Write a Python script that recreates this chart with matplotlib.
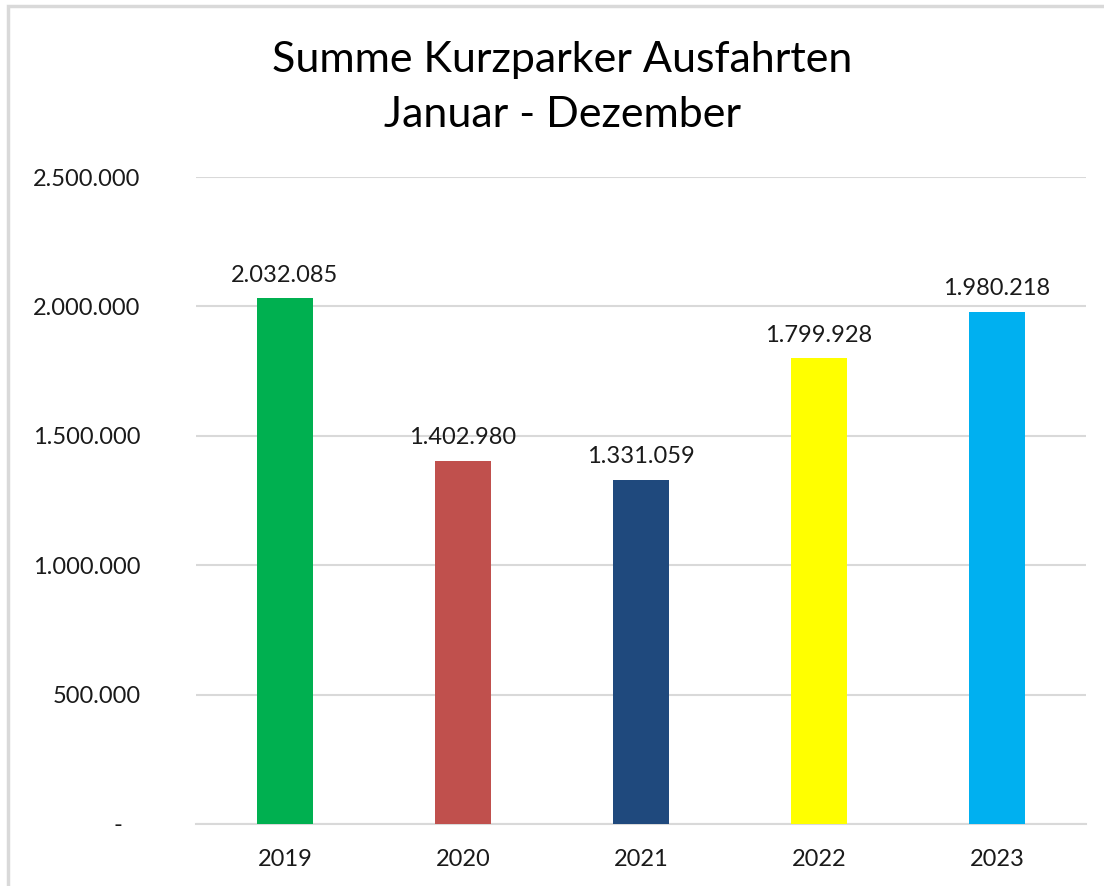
import matplotlib
matplotlib.use("Agg")
import matplotlib.pyplot as plt
from matplotlib.patches import Rectangle
from matplotlib.ticker import FuncFormatter

years = ["2019", "2020", "2021", "2022", "2023"]
values = [2032085, 1402980, 1331059, 1799928, 1980218]
colors = ["#00B050", "#C0504D", "#1F497D", "#FFFF00", "#00B0F0"]
title_lines = ["Summe Kurzparker Ausfahrten", "Januar - Dezember"]

plt.rcParams['font.family'] = ['Lato', 'DejaVu Sans']

W, H = 1104, 886
fig = plt.figure(figsize=(W / 100, H / 100), dpi=100)
fig.patch.set_facecolor("white")

# outer chart frame (cut at right/bottom)
fig.patches.append(Rectangle((8 / W, -0.1), 1.2, (H - 6) / H + 0.1, transform=fig.transFigure,
                             fill=False, edgecolor="#D9D9D9", linewidth=2.5))

ax = fig.add_axes([196 / W, 1 - 824 / H, (1086 - 196) / W, (824 - 177) / H])
x = range(len(years))
ax.bar(x, values, width=0.315, color=colors, zorder=3)
ax.set_xlim(-0.5, len(years) - 0.5)
ax.set_ylim(0, 2500000)
ax.set_yticks(range(0, 2500001, 500000))

def fmt(v, pos=None):
    v = int(round(v))
    if v == 0:
        return "-\u00a0\u00a0\u00a0"
    return f"{v:,}".replace(",", ".")

ax.yaxis.set_major_formatter(FuncFormatter(fmt))
ax.set_xticks(list(x))
ax.set_xticklabels(years)
ax.grid(axis="y", color="#D9D9D9", linewidth=1.5, zorder=0)
for s in ["top", "right", "left"]:
    ax.spines[s].set_visible(False)
ax.spines["bottom"].set_color("#D9D9D9")
ax.spines["bottom"].set_linewidth(1.5)
ax.tick_params(axis="both", length=0, labelsize=17, colors="#1a1a1a")
ax.tick_params(axis="y", pad=40)
ax.tick_params(axis="x", pad=18)
for lbl in ax.get_yticklabels():
    lbl.set_horizontalalignment("right")

for xi, v in zip(x, values):
    ax.annotate(fmt(v), (xi, v), xytext=(0, 9), textcoords="offset points",
                ha="center", va="bottom", fontsize=17, color="#1a1a1a")

fig.text(562 / W, 1 - 60 / H, title_lines[0], ha="center", va="center", fontsize=31, color="black")
fig.text(562 / W, 1 - 115 / H, title_lines[1], ha="center", va="center", fontsize=31, color="black")

fig.savefig("out.png", dpi=100, facecolor="white")
